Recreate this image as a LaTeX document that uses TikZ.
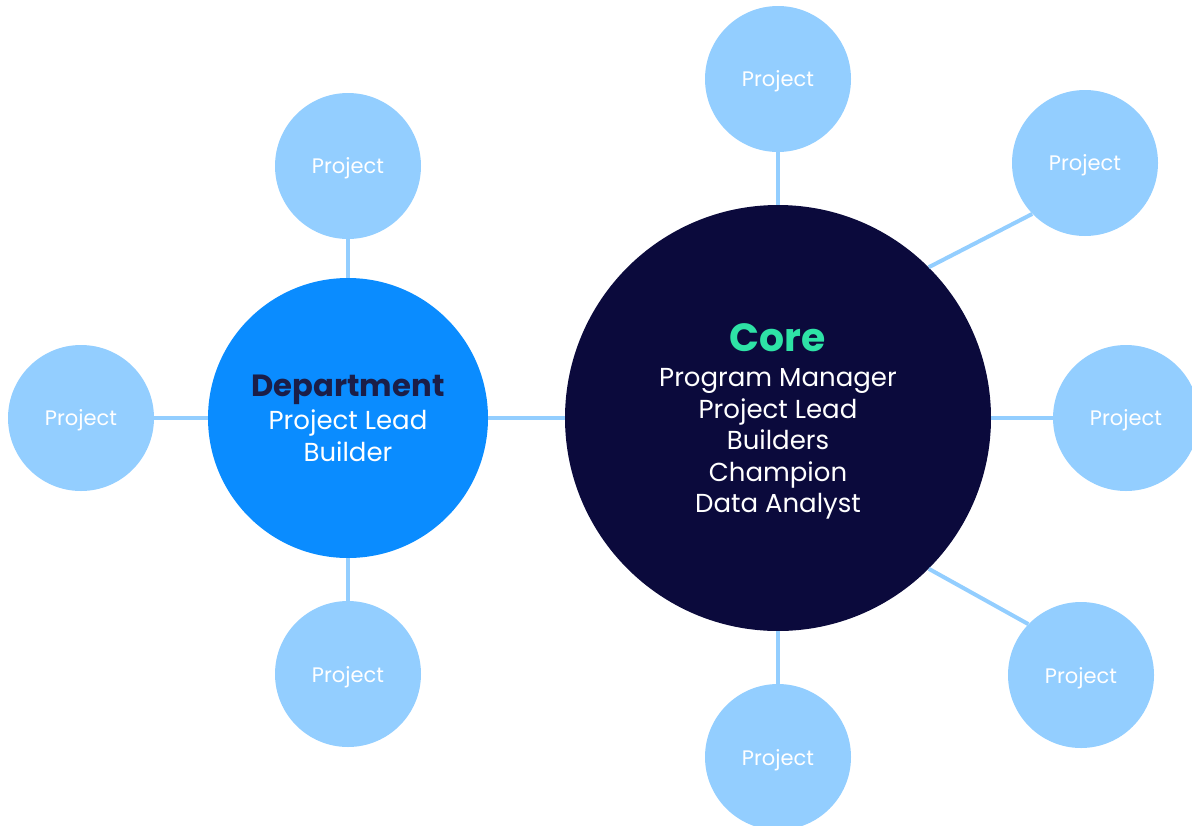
\documentclass[tikz,border=0pt]{standalone}
\usepackage{fontspec}
\setmainfont{Poppins}
\definecolor{nuit}{HTML}{0B0A3C}
\definecolor{bleu}{HTML}{0A8CFF}
\definecolor{ciel}{HTML}{93CEFF}
\definecolor{menthe}{HTML}{2EE2A6}
\definecolor{encre}{HTML}{1B1E48}
\tikzset{
    projet/.style={circle,fill=ciel,minimum size=109.5pt,inner sep=0pt,text=white,text depth=0pt,font=\fontsize{15.75}{18}\selectfont},
    lien/.style={draw=ciel,line width=3pt},
    liste/.style={align=center,text=white,inner sep=0pt,font=\fontsize{19.5}{23.6}\selectfont},
  }

\begin{document}
\begin{tikzpicture}[x=0.75pt,y=-0.75pt]
				  %cadre
				  \useasboundingbox (0,0) rectangle (1192,825);
				  \clip (0,0) rectangle (1192,825);
				  %CORE et departement
				  \node[circle,fill=nuit,minimum size=319.5pt,inner sep=0pt] (core) at (778,418) {};
				  \node[circle,fill=bleu,minimum size=210pt,inner sep=0pt] (dept) at (348,418) {};
				  %projets du departement
				  \node[projet] (pA) at (348,166) {Project};
				  \node[projet] (pB) at (81,418) {Project};
				  \node[projet] (pC) at (348,674) {Project};
				  %projets du core
				  \node[projet] (pD) at (778,79) {Project};
				  \node[projet] (pE) at (1085,163) {Project};
				  \node[projet] (pF) at (1126,418) {Project};
				  \node[projet] (pG) at (1081,675) {Project};
				  \node[projet] (pH) at (778,757) {Project};
				  %liens
				  \draw[lien] (dept) -- (core);
				  \draw[lien] (dept) -- (pA);
				  \draw[lien] (dept) -- (pB);
				  \draw[lien] (dept) -- (pC);
				  \draw[lien] (core) -- (pD);
				  \draw[lien] (core.45) -- (pE.224);
				  \draw[lien] (core) -- (pF);
				  \draw[lien] (core.-45) -- (pG.136);
				  \draw[lien] (core) -- (pH);
				  %textes
				  \node[text=menthe,inner sep=0pt,text depth=0pt,font=\fontsize{29.5}{33}\selectfont\bfseries] (coretitre) at (778,338) {Core};
				  \node[liste] (coreliste) at (778,444) {Program Manager\\Project Lead\\Builders\\Champion\\Data Analyst};
				  \node[text=encre,inner sep=0pt,text depth=0pt,font=\fontsize{23}{26}\selectfont\bfseries] (depttitre) at (348,386) {Department};
				  \node[liste,font=\fontsize{19.5}{24}\selectfont] (deptliste) at (348,436) {Project Lead\\Builder};
\end{tikzpicture}
\end{document}
